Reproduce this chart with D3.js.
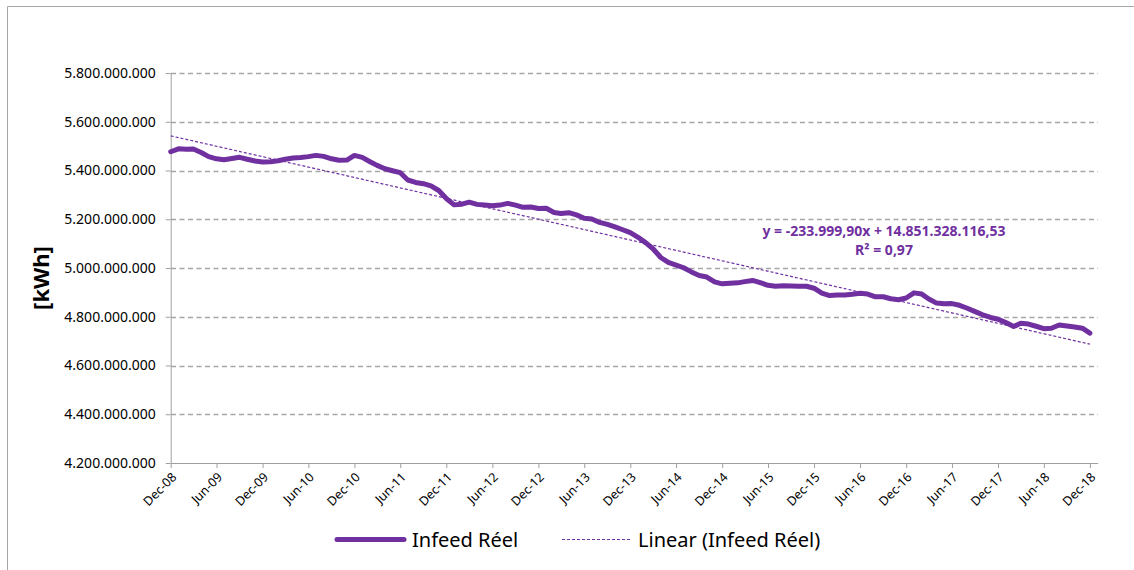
<!DOCTYPE html>
<html>
<head>
<meta charset="utf-8">
<script src="https://cdn.jsdelivr.net/npm/d3@7"></script>
<style>
  body { margin: 0; background: #fff; }
  text { font-family: "Noto Sans", sans-serif; }
</style>
</head>
<body>
<div id="canvas"></div>
<script>
// monthly infeed, first month Dec-08
var firstMonth = 'Dec-08';
var infeedReel = [
  5477e6, 5489e6, 5487e6, 5488e6, 5474e6, 5457e6, 5448e6, 5444e6, 5449e6, 5454e6, 5446e6, 5439e6,
  5435e6, 5436e6, 5440e6, 5446e6, 5451e6, 5453e6, 5457e6, 5462e6, 5458e6, 5448e6, 5442e6, 5443e6,
  5462e6, 5454e6, 5436e6, 5421e6, 5407e6, 5399e6, 5391e6, 5361e6, 5351e6, 5346e6, 5337e6, 5318e6,
  5285e6, 5259e6, 5262e6, 5270e6, 5261e6, 5258e6, 5255e6, 5258e6, 5265e6, 5258e6, 5249e6, 5250e6,
  5244e6, 5245e6, 5228e6, 5224e6, 5227e6, 5218e6, 5204e6, 5201e6, 5187e6, 5179e6, 5169e6, 5157e6,
  5145e6, 5126e6, 5103e6, 5079e6, 5043e6, 5023e6, 5012e6, 5001e6, 4984e6, 4969e6, 4963e6, 4943e6,
  4935e6, 4937e6, 4939e6, 4944e6, 4949e6, 4940e6, 4929e6, 4925e6, 4927e6, 4926e6, 4925e6, 4925e6,
  4917e6, 4897e6, 4887e6, 4889e6, 4889e6, 4892e6, 4896e6, 4893e6, 4882e6, 4882e6, 4874e6, 4870e6,
  4877e6, 4898e6, 4893e6, 4873e6, 4856e6, 4853e6, 4854e6, 4847e6, 4835e6, 4821e6, 4808e6, 4797e6,
  4790e6, 4776e6, 4760e6, 4773e6, 4770e6, 4761e6, 4751e6, 4753e6, 4766e6, 4762e6, 4758e6, 4753e6,
  4733e6
];

var xTickLabels = ['Dec-08','Jun-09','Dec-09','Jun-10','Dec-10','Jun-11','Dec-11','Jun-12','Dec-12','Jun-13',
                   'Dec-13','Jun-14','Dec-14','Jun-15','Dec-15','Jun-16','Dec-16','Jun-17','Dec-17','Jun-18','Dec-18'];
var yTickValues = [4200e6, 4400e6, 4600e6, 4800e6, 5000e6, 5200e6, 5400e6, 5600e6, 5800e6];

// excel trendline (x = excel date serial)
var trendSlope = -233999.90;
var trendIntercept = 14851328116.53;
var trendR2 = 0.97;

var purple = '#7030a0';
var parseMonth = d3.utcParse('%b-%y');
var start = parseMonth(firstMonth);
var series = infeedReel.map(function(v, i) {
  return {date: d3.utcMonth.offset(start, i), value: v};
});
var axisEnd = d3.utcMonth.offset(series[series.length-1].date, 1);

var loc = d3.formatLocale({decimal: ',', thousands: '.', grouping: [3], currency: ['', ''], minus: '-'});
var fmt = loc.format(',.0f');
var fmt2 = loc.format(',.2f');

svg = d3.select('#canvas').append('svg')
  .attr('width', 1134)
  .attr('height', 570);

// outer frame
svg.append('path')
  .attr('d', 'M7.5 570 V6.5 H1134')
  .attr('fill', 'none')
  .attr('stroke', '#a6a6a6');

var x = d3.scaleUtc().domain([start, axisEnd]).range([170.7, 1097.7]);
var y = d3.scaleLinear().domain([4200e6, 5800e6]).range([463, 73]);

// gridlines
svg.append('g').selectAll('line')
  .data(yTickValues.slice(1))
  .join('line')
  .attr('x1', 171).attr('x2', 1098)
  .attr('y1', function(d) { return Math.round(y(d)) + 0.5; })
  .attr('y2', function(d) { return Math.round(y(d)) + 0.5; })
  .attr('stroke', '#a6a6a6')
  .attr('stroke-width', 1.3)
  .attr('stroke-dasharray', '5,3.5');

var yAxis = svg.append('g')
  .attr('transform', 'translate(170.7,0)')
  .call(d3.axisLeft(y).tickValues(yTickValues).tickFormat(fmt).tickSize(5).tickPadding(10).tickSizeOuter(0));
yAxis.selectAll('path, line').attr('stroke', '#a0a0a0');
yAxis.selectAll('text').style('font-size', '14px').attr('fill', '#000');

var xAxis = svg.append('g')
  .attr('transform', 'translate(0,463)')
  .call(d3.axisBottom(x).tickValues(xTickLabels.map(parseMonth)).tickFormat(d3.utcFormat('%b-%y')).tickSize(5).tickSizeOuter(0));
xAxis.selectAll('path, line').attr('stroke', '#a0a0a0');
xAxis.selectAll('text')
  .style('font-size', '12.5px')
  .attr('fill', '#000')
  .attr('text-anchor', 'end')
  .attr('x', 0).attr('y', 0).attr('dy', 0)
  .attr('transform', 'translate(6,15) rotate(-45)');

svg.append('text')
  .attr('transform', 'translate(49,278) rotate(-90)')
  .attr('text-anchor', 'middle')
  .style('font-size', '22px')
  .style('font-weight', 'bold')
  .text('[kWh]');

// data line
var line = d3.line()
  .x(function(d) { return x(d.date); })
  .y(function(d) { return y(d.value); });

svg.append('path')
  .datum(series)
  .attr('d', line)
  .attr('fill', 'none')
  .attr('stroke', purple)
  .attr('stroke-width', 5)
  .attr('stroke-linejoin', 'round')
  .attr('stroke-linecap', 'round');

// trendline
excelSerial = function(d) {
  return (d - Date.UTC(1899, 11, 30)) / 86400000;
};
var trendPts = [series[0].date, series[series.length-1].date].map(function(d) {
  return {date: d, value: trendSlope * excelSerial(d) + trendIntercept};
});
svg.append('path')
  .datum(trendPts)
  .attr('d', line)
  .attr('fill', 'none')
  .attr('stroke', purple)
  .attr('stroke-width', 1.2)
  .attr('stroke-dasharray', '3,2');

var eq = svg.append('g')
  .attr('fill', purple)
  .style('font-size', '14px')
  .style('font-weight', 'bold')
  .attr('text-anchor', 'middle');
eq.append('text')
  .attr('x', 884).attr('y', 236)
  .text('y = ' + fmt2(trendSlope) + 'x + ' + fmt2(trendIntercept));
eq.append('text')
  .attr('x', 884).attr('y', 254.5)
  .text('R\u00b2 = ' + loc.format('.2f')(trendR2));

// legend
legend = svg.append('g');
legend.append('line')
  .attr('x1', 337).attr('x2', 404).attr('y1', 539.5).attr('y2', 539.5)
  .attr('stroke', purple).attr('stroke-width', 5).attr('stroke-linecap', 'round');
legend.append('text')
  .attr('x', 412).attr('y', 547)
  .style('font-size', '20px')
  .text('Infeed Réel');
legend.append('line')
  .attr('x1', 562).attr('x2', 630).attr('y1', 539.5).attr('y2', 539.5)
  .attr('stroke', purple).attr('stroke-width', 1).attr('stroke-dasharray', '3,2');
legend.append('text')
  .attr('x', 638).attr('y', 547)
  .style('font-size', '20px')
  .text('Linear (Infeed Réel)');
</script>
</body>
</html>
